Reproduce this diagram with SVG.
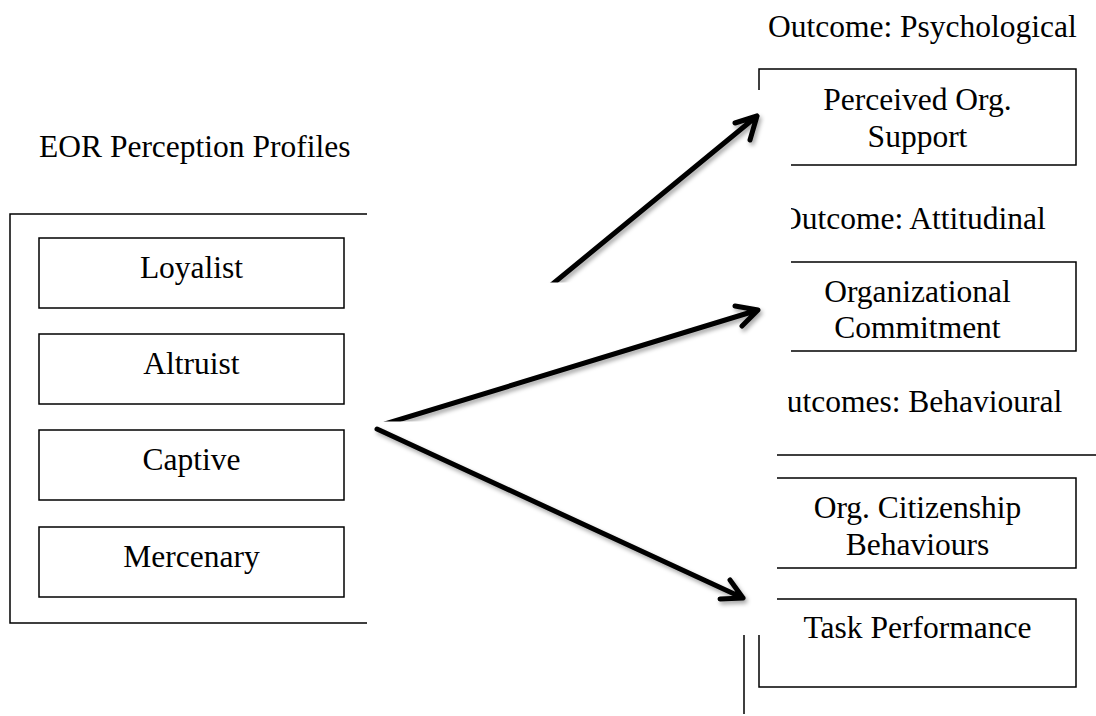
<svg xmlns="http://www.w3.org/2000/svg" width="1096" height="716" viewBox="0 0 1096 716">
<style>
text{font-family:"Liberation Serif","Times New Roman",serif;font-size:31.5px;fill:#000}
.c{text-anchor:middle}
.b{fill:none;stroke:#000;stroke-width:1.5}
.a{fill:none;stroke:#000;stroke-width:5;stroke-linecap:round;stroke-linejoin:round;filter:url(#sh)}
</style>
<defs>
<filter id="sh" x="-20%" y="-20%" width="140%" height="140%">
<feDropShadow dx="2" dy="3" stdDeviation="2" flood-color="#000" flood-opacity="0.35"/>
</filter>
<clipPath id="clipA1"><rect x="0" y="0" width="1096" height="282.5"/></clipPath>
<clipPath id="clipA2"><rect x="0" y="0" width="1096" height="421.5"/></clipPath>
<clipPath id="clipT1"><rect x="791" y="0" width="305" height="716"/></clipPath>
<clipPath id="clipT2"><rect x="788" y="0" width="308" height="716"/></clipPath>
</defs>
<rect width="1096" height="716" fill="#fff"/>

<g id="profiles">
<text x="39" y="157">EOR Perception Profiles</text>
<path class="b" d="M367,214 H10 V623 H367"/>
</g>
<g id="loyalist"><rect class="b" x="39" y="238" width="305" height="70"/><text class="c" x="191.5" y="278">Loyalist</text></g>
<g id="altruist"><rect class="b" x="39" y="334" width="305" height="70"/><text class="c" x="191.5" y="374">Altruist</text></g>
<g id="captive"><rect class="b" x="39" y="430" width="305" height="70"/><text class="c" x="191.5" y="470">Captive</text></g>
<g id="mercenary"><rect class="b" x="39" y="527" width="305" height="70"/><text class="c" x="191.5" y="567">Mercenary</text></g>

<g id="psychological">
<text x="768" y="37">Outcome: Psychological</text>
</g>
<g id="pos">
<path class="b" d="M759,90 V69 H1076 V165 H791"/>
<text class="c" x="917.5" y="110">Perceived Org.</text>
<text class="c" x="917.5" y="147">Support</text>
</g>
<g id="attitudinal">
<text x="779" y="229" clip-path="url(#clipT1)">Outcome: Attitudinal</text>
</g>
<g id="commitment">
<path class="b" d="M791,262 H1076 V351 H791"/>
<text class="c" x="917.5" y="302">Organizational</text>
<text class="c" x="917.5" y="338">Commitment</text>
</g>
<g id="behavioural">
<text x="764" y="412" clip-path="url(#clipT2)">Outcomes: Behavioural</text>
<path class="b" d="M1096,455 H777 M744,635 V714"/>
</g>
<g id="ocb">
<path class="b" d="M777,478 H1076 V568 H777"/>
<text class="c" x="917.5" y="518">Org. Citizenship</text>
<text class="c" x="917.5" y="555">Behaviours</text>
</g>
<g id="task">
<path class="b" d="M777,599 H1076 V687 H759 V635"/>
<text class="c" x="917.5" y="638">Task Performance</text>
</g>

<g id="connectors">
<path class="a" clip-path="url(#clipA1)" d="M545,290.2 L757,116 M735,123 L757,116 L750,140"/>
<path class="a" clip-path="url(#clipA2)" d="M385,424 L758,310 M735,306 L758,310 L742,326"/>
<path class="a" d="M377,429 L743,598 M730,580 L743,598 L720,599"/>
</g>
</svg>
